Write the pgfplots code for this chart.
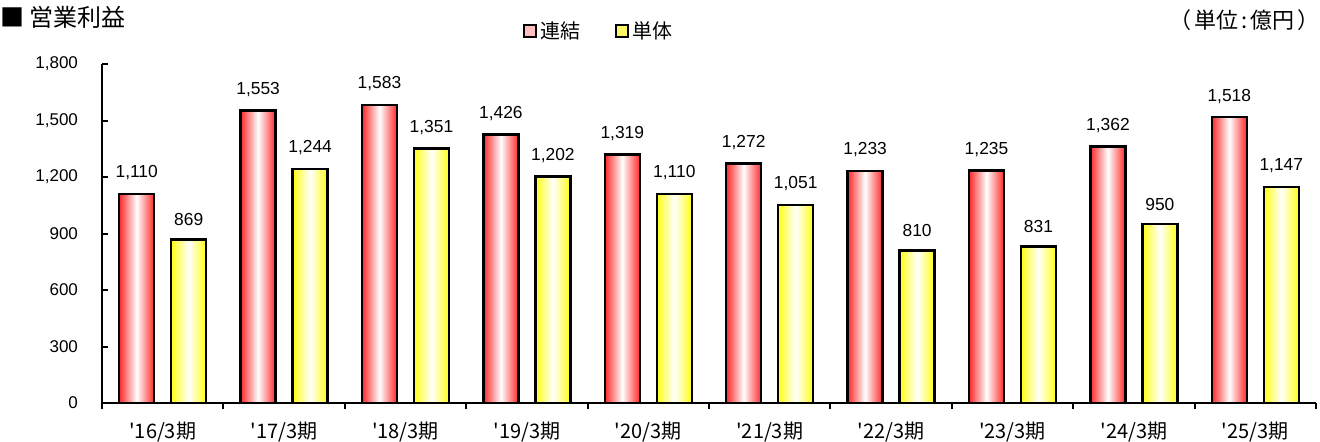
\documentclass[border=0pt]{standalone}
\usepackage{fontspec}
\usepackage{pgfplots}
\pgfplotsset{compat=1.18}
\setmainfont{Liberation Sans}
\newfontfamily\jp{Noto Sans CJK JP}
\definecolor{barred}{RGB}{255,40,40}
\definecolor{baryel}{RGB}{255,255,20}
\pgfplotsset{
  redbar/.style={forget plot, bar shift=-13pt, draw=black, line width=1.2pt, left color=barred, right color=barred, middle color=white},
  yelbar/.style={forget plot, bar shift=13pt, draw=black, line width=1.2pt, left color=baryel, right color=baryel, middle color=white},
}
\begin{document}
\begin{tikzpicture}
\useasboundingbox (0,0) rectangle (660pt,220.5pt);
\begin{axis}[
  at={(51pt,19pt)}, anchor=south west,
  scale only axis, width=607pt, height=169.5pt,
  xmin=-0.5, xmax=9.5, ymin=0, ymax=1800,
  axis x line*=bottom, axis y line*=left,
  axis line style={line width=1pt, -},
  ytick={0,300,...,1800},
  xtick={0,...,9},
  xticklabels={'16/3期,'17/3期,'18/3期,'19/3期,'20/3期,'21/3期,'22/3期,'23/3期,'24/3期,'25/3期},
  minor xtick={-0.5,0.5,...,9.5},
  tick align=inside,
  major tick length=3pt, minor tick length=3pt,
  x tick style={draw=none},
  minor x tick style={draw=black, line width=1pt},
  y tick style={line width=1pt, black},
  yticklabel style={font=\fontsize{8.5}{10}\selectfont, xshift=-8.5pt},
  xticklabel style={font=\jp\fontsize{10}{12}\selectfont, yshift=-3pt},
  /pgf/number format/.cd, 1000 sep={,}, assume math mode=true,
  /pgfplots/.cd,
  ybar, bar width=17.5pt,
  nodes near coords,
  every node near coord/.append style={font=\fontsize{8.7}{10}\selectfont, black, yshift=3pt, /pgf/number format/1000 sep={,}},
  clip=false,
  legend style={at={(0.41,1.097)}, anchor=center, draw=none, legend columns=2,
    font=\jp\fontsize{10}{12}\selectfont, /tikz/every even column/.append style={column sep=15pt}},
]
\addlegendimage{legend image code/.code={\draw[line width=1pt, draw=black, fill=red!25] (0pt,-3pt) rectangle (6pt,3pt);}}
\addlegendimage{legend image code/.code={\draw[line width=1pt, draw=black, fill=yellow!60] (0pt,-3pt) rectangle (6pt,3pt);}}
\addplot[redbar] coordinates {(0,1110)};
\addplot[redbar] coordinates {(1,1553)};
\addplot[redbar] coordinates {(2,1583)};
\addplot[redbar] coordinates {(3,1426)};
\addplot[redbar] coordinates {(4,1319)};
\addplot[redbar] coordinates {(5,1272)};
\addplot[redbar] coordinates {(6,1233)};
\addplot[redbar] coordinates {(7,1235)};
\addplot[redbar] coordinates {(8,1362)};
\addplot[redbar] coordinates {(9,1518)};
\addplot[yelbar] coordinates {(0,869)};
\addplot[yelbar] coordinates {(1,1244)};
\addplot[yelbar] coordinates {(2,1351)};
\addplot[yelbar] coordinates {(3,1202)};
\addplot[yelbar] coordinates {(4,1110)};
\addplot[yelbar] coordinates {(5,1051)};
\addplot[yelbar] coordinates {(6,810)};
\addplot[yelbar] coordinates {(7,831)};
\addplot[yelbar] coordinates {(8,950)};
\addplot[yelbar] coordinates {(9,1147)};
\legend{連結,単体}
\node[anchor=west, font=\jp\fontsize{12}{14}\selectfont, inner sep=0pt] at (rel axis cs:-0.084,1.139) {■ 営業利益};
\node[anchor=east, font=\jp\fontsize{11}{12}\selectfont, inner sep=0pt] at (rel axis cs:1.0033,1.13) {（\hspace{1.5pt}単位\hspace{1.5pt}:\hspace{1.5pt}億円\hspace{1.5pt}）};
\end{axis}
\end{tikzpicture}
\end{document}
